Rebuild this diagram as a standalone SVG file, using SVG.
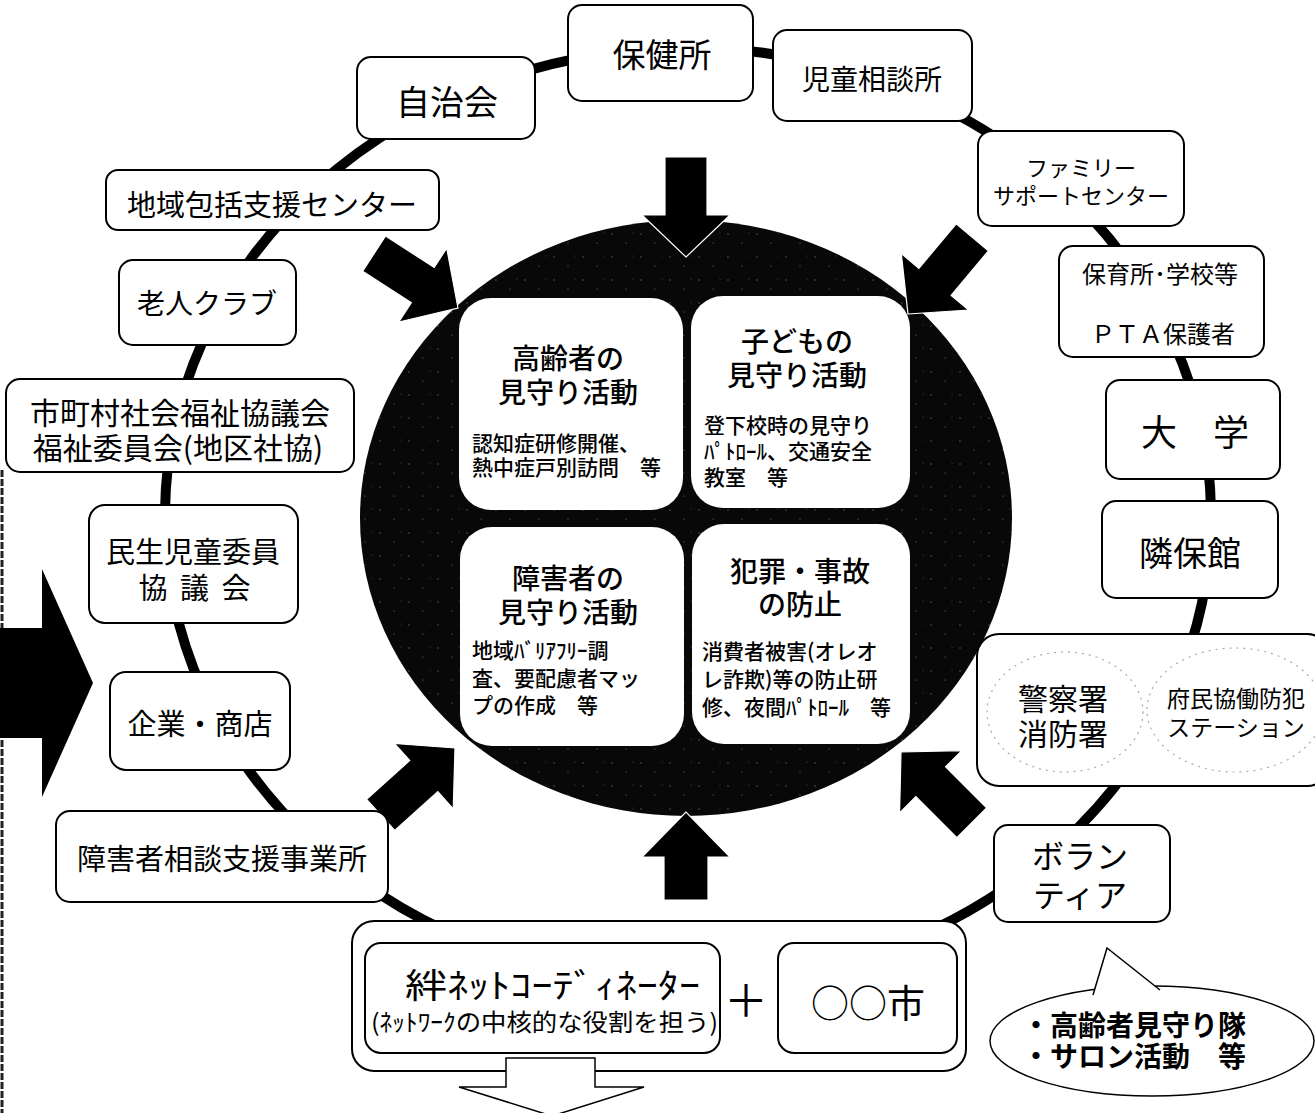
<svg xmlns="http://www.w3.org/2000/svg" width="1315" height="1113" viewBox="0 0 1315 1113">
<style>
.box{fill:#fff;stroke:#000;stroke-width:2}
.t{font-family:"Noto Sans CJK JP","Noto Sans CJK SC",sans-serif;fill:#000;text-anchor:middle;dominant-baseline:central}
.d{font-family:"Noto Sans CJK JP","Noto Sans CJK SC",sans-serif;fill:#000;text-anchor:start;dominant-baseline:central;font-size:21px;font-weight:500}
.h{font-weight:500;font-size:28px}
.cb{fill:#fff}
.arr{fill:#000;stroke:#fff;stroke-width:1.2}
.dot{fill:none;stroke:#aaa;stroke-width:1.2;stroke-dasharray:2 5}
</style>
<defs>
<path id="arr" d="M0,0 L-42,-44 L-42,-21 L-100,-21 L-100,21 L-42,21 L-42,44 Z"/>
<path id="arrS" d="M0,0 L-45,-44 L-45,-22 L-88,-22 L-88,22 L-45,22 L-45,44 Z"/>
<pattern id="speck" width="29" height="23" patternUnits="userSpaceOnUse">
<rect width="29" height="23" fill="#080808"/>
<circle cx="3" cy="4" r="0.7" fill="#666"/>
<circle cx="17" cy="13" r="0.6" fill="#777"/>
<circle cx="24" cy="3" r="0.5" fill="#555"/>
</pattern>
</defs>

<g id="frame">
<line x1="2" y1="470" x2="2" y2="1113" stroke="#222" stroke-width="3" stroke-dasharray="7 2"/>
</g>

<g id="connectors">
<ellipse cx="688" cy="516" rx="523" ry="468" fill="none" stroke="#000" stroke-width="10"/>
</g>

<g id="center">
<ellipse cx="686" cy="518" rx="326" ry="298" fill="url(#speck)"/>
<g id="box-elderly">
<rect class="cb" x="459" y="298" width="224" height="212" rx="32"/>
<text class="t h" x="568" y="357">高齢者の</text>
<text class="t h" x="568" y="391">見守り活動</text>
<text class="d" x="472" y="442" font-size="20.5">認知症研修開催、</text>
<text class="d" x="472" y="466" font-size="20.5">熱中症戸別訪問　等</text>
</g>
<g id="box-children">
<rect class="cb" x="691" y="296" width="219" height="212" rx="32"/>
<text class="t h" x="797" y="340">子どもの</text>
<text class="t h" x="797" y="374">見守り活動</text>
<text class="d" x="704" y="424">登下校時の見守り</text>
<text class="d" x="704" y="450">ﾊﾟﾄﾛｰﾙ、交通安全</text>
<text class="d" x="704" y="476">教室　等</text>
</g>
<g id="box-disabled">
<rect class="cb" x="460" y="527" width="224" height="219" rx="32"/>
<text class="t h" x="568" y="577">障害者の</text>
<text class="t h" x="568" y="611">見守り活動</text>
<text class="d" x="472" y="649">地域ﾊﾞﾘｱﾌﾘｰ調</text>
<text class="d" x="472" y="677">査、要配慮者マッ</text>
<text class="d" x="472" y="704">プの作成　等</text>
</g>
<g id="box-crime">
<rect class="cb" x="692" y="524" width="218" height="220" rx="32"/>
<text class="t h" x="800" y="570">犯罪・事故</text>
<text class="t h" x="800" y="603">の防止</text>
<text class="d" x="702" y="650">消費者被害(オレオ</text>
<text class="d" x="702" y="678">レ詐欺)等の防止研</text>
<text class="d" x="702" y="706">修、夜間ﾊﾟﾄﾛｰﾙ　等</text>
</g>
</g>

<g id="arrows">
<use href="#arr" class="arr" transform="translate(686,257) rotate(90)"/>
<use href="#arr" class="arr" transform="translate(458,308) rotate(33)"/>
<use href="#arr" class="arr" transform="translate(908,314) rotate(130)"/>
<use href="#arr" class="arr" transform="translate(455,748) rotate(-42)"/>
<use href="#arr" class="arr" transform="translate(901,752) rotate(-135)"/>
<use href="#arrS" class="arr" transform="translate(686,812) rotate(-90)"/>
<polygon points="0,628 42,628 42,569 93,683 42,797 42,738 0,738" fill="#000"/>
</g>

<g id="n-hokenjo"><rect class="box" x="568" y="5" width="185" height="96" rx="14"/><text class="t" x="662" y="53" font-size="33">保健所</text></g>
<g id="n-jichikai"><rect class="box" x="357" y="57" width="178" height="82" rx="14"/><text class="t" x="447" y="100" font-size="34">自治会</text></g>
<g id="n-jido"><rect class="box" x="773" y="30" width="199" height="91" rx="14"/><text class="t" x="872" y="78" font-size="28">児童相談所</text></g>
<g id="n-family"><rect class="box" x="978" y="131" width="206" height="95" rx="14"/><text class="t" x="1081" y="166" font-size="22">ファミリー</text><text class="t" x="1081" y="194" font-size="22">サポートセンター</text></g>
<g id="n-hoiku"><rect class="box" x="1059" y="246" width="205" height="111" rx="14"/><text class="t" x="1160" y="272" font-size="24">保育所･学校等</text><text class="t" x="1163" y="332" font-size="24">ＰＴＡ保護者</text></g>
<g id="n-daigaku"><rect class="box" x="1106" y="380" width="174" height="99" rx="14"/><text class="t" x="1195" y="430" font-size="36">大　学</text></g>
<g id="n-rinpo"><rect class="box" x="1102" y="501" width="176" height="97" rx="14"/><text class="t" x="1190" y="551" font-size="34">隣保館</text></g>
<g id="n-police"><rect class="box" x="977" y="634" width="352" height="152" rx="22"/>
<ellipse class="dot" cx="1065" cy="712" rx="78" ry="60"/><ellipse class="dot" cx="1235" cy="710" rx="88" ry="62"/>
<text class="t" x="1063" y="697" font-size="30">警察署</text><text class="t" x="1063" y="732" font-size="30">消防署</text>
<text class="t" x="1236" y="697" font-size="23">府民協働防犯</text><text class="t" x="1236" y="726" font-size="23">ステーション</text></g>
<g id="n-volunteer"><rect class="box" x="994" y="825" width="176" height="97" rx="14"/><text class="t" x="1080" y="854" font-size="32">ボラン</text><text class="t" x="1080" y="893" font-size="32">ティア</text></g>
<g id="n-bubble">
<ellipse cx="1152" cy="1041" rx="162" ry="55" fill="#fff" stroke="#000" stroke-width="1.5"/>
<polygon points="1093,1000 1093,994 1107,948 1160,990 1160,1000" fill="#fff"/>
<polyline points="1093,995 1107,948 1160,990" fill="none" stroke="#000" stroke-width="1.5"/>
<text class="t" x="1022" y="1024" font-size="28" font-weight="700" style="text-anchor:start">・高齢者見守り隊</text>
<text class="t" x="1022" y="1055" font-size="28" font-weight="700" style="text-anchor:start">・サロン活動　等</text>
</g>
<g id="n-chiiki"><rect class="box" x="106" y="170" width="333" height="60" rx="12"/><text class="t" x="272" y="203" font-size="29">地域包括支援センター</text></g>
<g id="n-rojin"><rect class="box" x="119" y="260" width="177" height="85" rx="14"/><text class="t" x="207" y="302" font-size="28">老人クラブ</text></g>
<g id="n-shakyo"><rect class="box" x="6" y="379" width="348" height="93" rx="14"/><text class="t" x="180" y="411" font-size="30">市町村社会福祉協議会</text><text class="t" x="178" y="446" font-size="30">福祉委員会(地区社協)</text></g>
<g id="n-minsei"><rect class="box" x="89" y="505" width="209" height="118" rx="16"/><text class="t" x="193" y="550" font-size="29">民生児童委員</text><text class="t" x="196" y="586" font-size="29" letter-spacing="3">協 議 会</text></g>
<g id="n-kigyo"><rect class="box" x="110" y="672" width="180" height="98" rx="16"/><text class="t" x="200" y="722" font-size="29">企業・商店</text></g>
<g id="n-shogai"><rect class="box" x="56" y="811" width="332" height="91" rx="14"/><text class="t" x="222" y="857" font-size="29">障害者相談支援事業所</text></g>

<g id="n-bottom">
<rect class="box" x="352" y="921" width="614" height="150" rx="22"/>
<rect class="box" x="365" y="943" width="355" height="110" rx="16"/>
<rect class="box" x="778" y="943" width="179" height="110" rx="16"/>
<text class="t" x="405" y="983" font-size="34" style="text-anchor:start" textLength="295" lengthAdjust="spacingAndGlyphs">絆ﾈｯﾄｺｰﾃﾞｨﾈｰﾀｰ</text>
<text class="t" x="371" y="1020" font-size="24" style="text-anchor:start" textLength="347" lengthAdjust="spacingAndGlyphs">(ﾈｯﾄﾜｰｸの中核的な役割を担う)</text>
<text class="t" x="746" y="998" font-size="44">＋</text>
<text class="t" x="868" y="1000" font-size="38">○○市</text>
<polygon points="506,1058 595,1058 595,1087 644,1087 552,1116 459,1087 506,1087" fill="#fff" stroke="#000" stroke-width="1.5"/>
</g>
</svg>
